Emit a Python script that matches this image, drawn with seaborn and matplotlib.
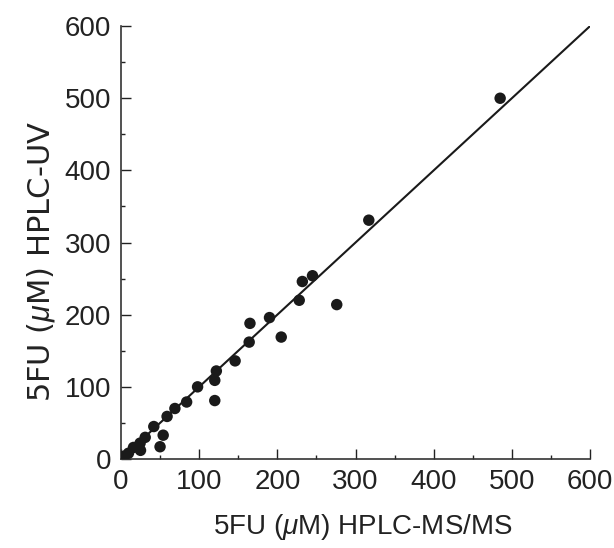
import matplotlib
matplotlib.use("Agg")
import matplotlib.pyplot as plt
import seaborn as sns
import numpy as np
import pandas as pd
from matplotlib.ticker import MultipleLocator

# Data
ms_ms = [485, 317, 245, 232, 228, 276, 190, 165, 205, 164, 146, 122, 120, 120,
         98, 84, 69, 59, 42, 54, 50, 31, 24.5, 25, 16, 9.6, 4, 1.5]
hplc_uv = [500, 331, 254, 246, 220, 214, 196, 188, 169, 162, 136, 122, 109, 81,
           100, 79, 70, 59, 45, 33, 17, 30, 22, 12, 16, 8, 4, 1.5]
line_x = [0, 600]
line_y = [0, 600]

df = pd.DataFrame({"x": ms_ms, "y": hplc_uv})

sns.set_theme(style="ticks")
plt.rcParams['font.family'] = ['Liberation Sans', 'DejaVu Sans']
plt.rcParams['mathtext.fontset'] = 'custom'
plt.rcParams['mathtext.it'] = 'Liberation Sans:italic'
plt.rcParams['mathtext.rm'] = 'Liberation Sans'

fig = plt.figure(figsize=(6.14, 5.48), dpi=100)
ax = fig.add_axes([0.197, 0.1624, 0.764, 0.790])

sns.lineplot(x=line_x, y=line_y, ax=ax, color="#1a1a1a", linewidth=1.5)
sns.scatterplot(data=df, x="x", y="y", ax=ax, color="#1a1a1a", s=68,
                edgecolor="none", zorder=3)

ax.set_xlim(0, 600)
ax.set_ylim(0, 600)
ax.xaxis.set_major_locator(MultipleLocator(100))
ax.yaxis.set_major_locator(MultipleLocator(100))
ax.xaxis.set_minor_locator(MultipleLocator(50))
ax.yaxis.set_minor_locator(MultipleLocator(50))
ax.tick_params(which="major", direction="in", length=7, width=1, labelsize=20,
               colors="#222222", pad=7)
ax.tick_params(which="minor", direction="in", length=3, width=1, colors="#222222")
for side in ["top", "right"]:
    ax.spines[side].set_visible(False)
for side in ["left", "bottom"]:
    ax.spines[side].set_color("#333333")
    ax.spines[side].set_linewidth(1.2)

ax.set_xlabel("5FU ($\\mu$M) HPLC-MS/MS", fontsize=20, color="#222222")
ax.set_ylabel("5FU ($\\mu$M) HPLC-UV", fontsize=22, color="#222222",
              family=['DejaVu Sans'])
ax.xaxis.set_label_coords(0.515, -0.122)
ax.yaxis.set_label_coords(-0.137, 0.457)

fig.savefig("out.png", dpi=100)
